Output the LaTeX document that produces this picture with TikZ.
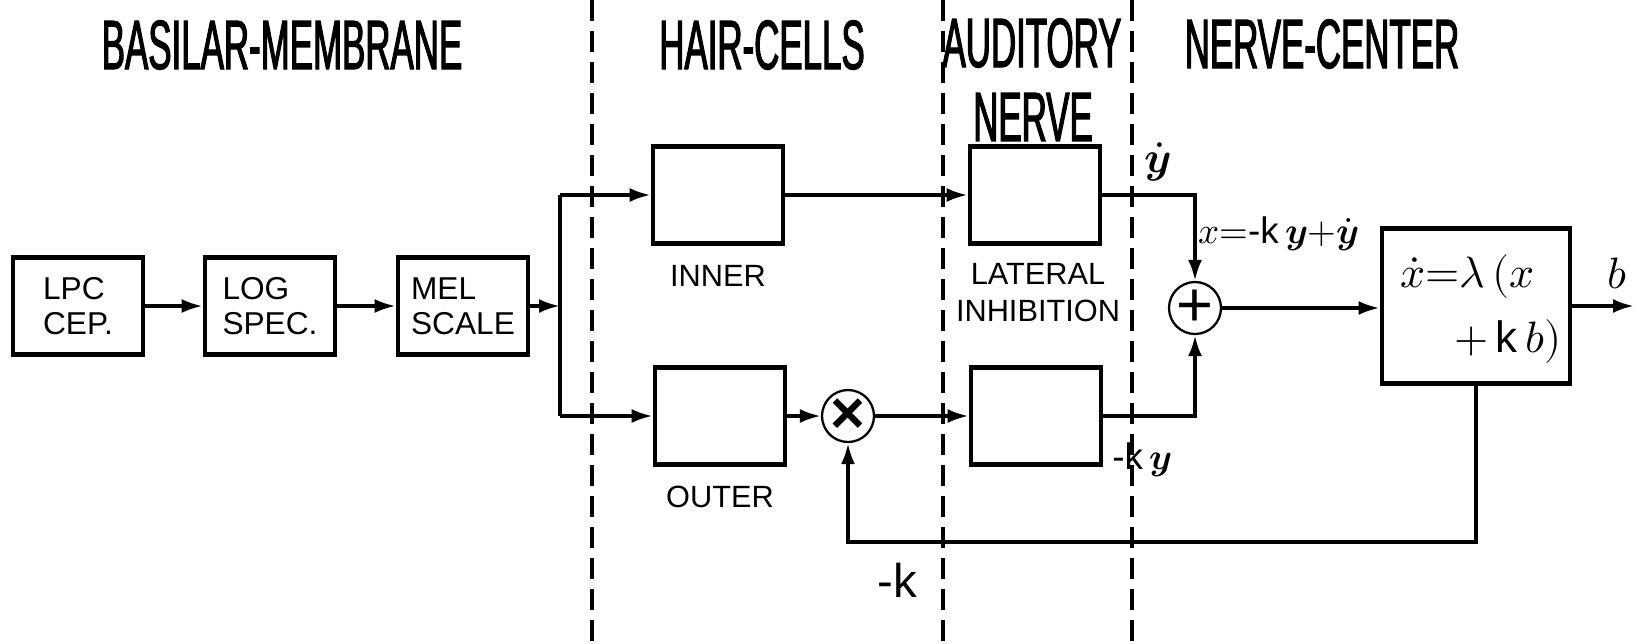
\documentclass[tikz,border=0pt]{standalone}
\usepackage{amsmath}
\usepackage{fontspec}
\usepackage{unicode-math}
\setmathfont{Latin Modern Math}
\newfontfamily\titlefont{Liberation Sans}[FakeStretch=0.5,FakeBold=1.6]
\newfontfamily\boxfont{Liberation Sans}
\usepackage{tikz}
\usetikzlibrary{calc,positioning,arrows.meta}
\newcommand{\yb}{\symbfit{y}}
\newcommand{\kk}{\mbox{\boxfont k}}

\begin{document}
\begin{tikzpicture}[x=0.02cm, y=-0.02cm,
	head/.style={font=\titlefont\fontsize{39.7}{44}\selectfont, inner sep=0pt},
	blk/.style={draw, line width=2.7pt, minimum width=2.6cm, minimum height=1.94cm, inner sep=0pt, align=left, font=\boxfont\fontsize{18}{20}\selectfont},
	lbl/.style={font=\boxfont\fontsize{17.5}{21}\selectfont, inner sep=0pt, align=center},
	mth/.style={font=\fontsize{21}{24}\selectfont, inner sep=0pt},
	big/.style={font=\fontsize{25}{28}\selectfont, inner sep=0pt},
	sumnode/.style={draw, circle, line width=1.3pt, minimum size=1.04cm, inner sep=0pt, font=\boxfont\fontsize{36}{36}\selectfont},
	wire/.style={line width=2pt},
	sig/.style={line width=2pt, -{Latex[length=0.42cm,width=0.28cm]}},
	zone/.style={line width=1.8pt, dash pattern=on 0.42cm off 0.2cm}]
\useasboundingbox (0,0) rectangle (1636,643);

\draw[zone] (592,0) -- (592,643);
\draw[zone] (943,0) -- (943,643);
\draw[zone] (1132,0) -- (1132,643);

\node[head] (tbm) at (282,45) {BASILAR-MEMBRANE};
\node[head] (thc) at (762,45) {HAIR-CELLS};
\node[head] (tan) at (1032,43) {AUDITORY};
\node[head] (tan2) at (1033,117) {NERVE};
\node[head] (tnc) at (1322,44) {NERVE-CENTER};

\node[blk] (lpc) at (78,306) {LPC\\CEP.};
\node[blk] (logs) at (270,306) {LOG\\SPEC.};
\node[blk] (mel) at (463,306) {MEL\\SCALE};

\node[blk] (inner) at (718,195) {};
\node[blk] (lat) at (1035,195) {};
\node[blk] (outer) at (720,416) {};
\node[blk] (latb) at (1036,416) {};
\node[sumnode, font=\boxfont\bfseries\fontsize{34}{34}\selectfont] (mul) at (848,416) {×};
\node[sumnode] (add) at (1195,308) {+};
\node[blk, minimum width=3.76cm, minimum height=3.1cm] (nc) at (1476,306) {};

\node[lbl] (linner) at (718,276) {INNER};
\node[lbl] (louter) at (720,497) {OUTER};
\node[lbl] (llat) at (1038,293) {LATERAL\\INHIBITION};

\node[big] (lyd) at (1158,162) {$\dot{\yb}$};
\node[mth, anchor=west] (lx) at (1198,234) {$x{=}$\boxfont-k\,$\yb{+}\dot{\yb}$};
\node[mth] (lky) at (1142,460) {\boxfont-k\,$\yb$};
\node[font=\boxfont\fontsize{27}{30}\selectfont, inner sep=0pt] (lk) at (897,580) {-k};
\node[big, anchor=base west] (leq1) at (1400,287) {$\dot{x}{=}\lambda\,(x$};
\node[big, anchor=base east] (leq2) at (1562,352) {$+\,\kk\, b)$};
\node[big] (lb) at (1617,273) {$b$};

\coordinate (brt) at (560,195);
\coordinate (brb) at (560,416);
\coordinate (fb) at (848,542);
\coordinate (outp) at (1634,306);

\draw[sig] (lpc) -- (logs);
\draw[sig] (logs) -- (mel);
\draw[wire] (brt) -- (brb);
\draw[sig] (mel.east) -- (mel.east -| brt);
\draw[sig] (brt) -- (inner);
\draw[sig] (brb) -- (outer);
\draw[sig] (inner) -- (lat);
\draw[sig] (outer) -- (mul);
\draw[sig] (mul) -- (latb);
\draw[sig] (lat.east) -| (add.north);
\draw[sig] (latb.east) -| (add.south);
\draw[sig] (add.east) -- (add.east -| nc.west);
\draw[sig] (nc.east) -- (outp);
\draw[sig] (nc.south) |- (fb) -- (mul.south);
\end{tikzpicture}
\end{document}
